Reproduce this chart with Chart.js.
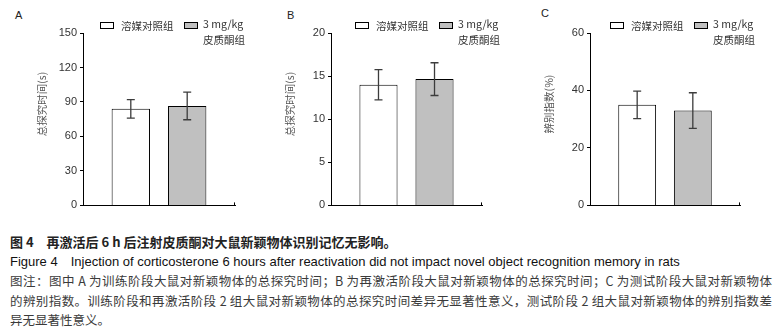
<!DOCTYPE html>
<html lang="zh">
<head>
<meta charset="UTF-8">
<title>图 4 新颖物体识别</title>
<script src="https://cdn.jsdelivr.net/npm/chart.js"></script>
<style>
  body { margin: 0; background: #fff; width: 784px; height: 334px; overflow: hidden; position: relative;
         font-family: "Liberation Sans", "Noto Sans CJK SC", sans-serif; }
  .panel { position: absolute; top: 0; height: 215px; }
  .tag { position: absolute; top: 9px; font-size: 11px; color: #222; }
  .cap { position: absolute; left: 10px; white-space: nowrap; line-height: 16px; }
  .zh { font-family: "Noto Sans CJK SC", sans-serif; }
  .note { font-size: 12.5px; color: #3a3a3a; width: 762px; text-align: justify; text-align-last: justify; }
</style>
</head>
<body>
  <div class="tag" style="left:15px">A</div>
  <div class="tag" style="left:287px">B</div>
  <div class="tag" style="left:541px;top:7px">C</div>

  <div class="panel" style="left:0;width:250px"><canvas id="chartA"></canvas></div>
  <div class="panel" style="left:250px;width:250px"><canvas id="chartB"></canvas></div>
  <div class="panel" style="left:510px;width:250px"><canvas id="chartC"></canvas></div>

  <div class="cap zh" style="top:234px;font-size:13px;font-weight:bold;color:#222">图 4　再激活后 6 h 后注射皮质酮对大鼠新颖物体识别记忆无影响。</div>
  <div class="cap" style="top:254px;font-size:13px;color:#111">Figure 4<span style="margin-left:13px"></span>Injection of corticosterone 6 hours after reactivation did not impact novel object recognition memory in rats</div>
  <div class="cap zh note" style="top:273px">图注：图中 A 为训练阶段大鼠对新颖物体的总探究时间；B 为再激活阶段大鼠对新颖物体的总探究时间；C 为测试阶段大鼠对新颖物体</div>
  <div class="cap zh note" style="top:293px">的辨别指数。训练阶段和再激活阶段 2 组大鼠对新颖物体的总探究时间差异无显著性意义，测试阶段 2 组大鼠对新颖物体的辨别指数差</div>
  <div class="cap zh" style="top:312px;font-size:12.5px;color:#3a3a3a">异无显著性意义。</div>

  <script>
    // data
    const groupNames = ['溶媒对照组', '3 mg/kg 皮质酮组'];
    const legendLines = [['溶媒对照组'], ['3 mg/kg', '皮质酮组']];
    const yTitles = ['总探究时间(s)', '总探究时间(s)', '辨别指数(%)'];
    const controlMeans = [84, 14, 35];
    const controlErr = [8, 1.75, 4.8];
    const corticoMeans = [86.5, 14.65, 33];
    const corticoErr = [12, 1.9, 6.2];
    const yMax = [150, 20, 60];
    const yStep = [30, 5, 20];

    // layout per panel (canvas id, y-axis width, right padding, legend offset)
    const panels = [
      { id: 'chartA', axisW: 83, padR: 15, legX: 17 },
      { id: 'chartB', axisW: 81, padR: 18, legX: 24 },
      { id: 'chartC', axisW: 80, padR: 20, legX: 20 }
    ];

    const colors = ['#ffffff', '#c0c0c0'];

    const extras = {
      id: 'extras',
      afterDatasetsDraw(chart, args, opts) {
        const ctx = chart.ctx;
        const y = chart.scales.y;
        ctx.save();
        ctx.strokeStyle = '#3c3c3c';
        ctx.lineWidth = 1.3;
        chart.data.datasets.forEach((ds, i) => {
          const bar = chart.getDatasetMeta(i).data[0];
          const m = ds.data[0], e = ds.err;
          const top = y.getPixelForValue(m + e), bot = y.getPixelForValue(m - e);
          ctx.beginPath();
          ctx.moveTo(bar.x, top); ctx.lineTo(bar.x, bot);
          ctx.moveTo(bar.x - 4, top); ctx.lineTo(bar.x + 4, top);
          ctx.moveTo(bar.x - 4, bot); ctx.lineTo(bar.x + 4, bot);
          ctx.stroke();
        });
        ctx.restore();
      },
      afterDraw(chart, args, opts) {
        const ctx = chart.ctx;
        const a = chart.chartArea;
        ctx.save();
        // small end tick on the x axis
        ctx.strokeStyle = '#000';
        ctx.lineWidth = 1;
        ctx.beginPath();
        ctx.moveTo(a.right - 0.5, a.bottom);
        ctx.lineTo(a.right - 0.5, a.bottom - 3);
        ctx.stroke();

        // y title
        ctx.fillStyle = '#555';
        ctx.font = '10.5px "Noto Sans CJK SC", sans-serif';
        ctx.textAlign = 'center';
        ctx.textBaseline = 'middle';
        ctx.translate(a.left - 41, 104);
        ctx.rotate(-Math.PI / 2);
        ctx.fillText(opts.yTitle, 0, 0);
        ctx.setTransform(1, 0, 0, 1, 0, 0);

        // legend
        const x0 = a.left + opts.legX;
        ctx.font = '10.5px "Noto Sans CJK SC", "Liberation Sans", sans-serif';
        ctx.textAlign = 'left';
        const slots = [x0, x0 + 84];
        chart.data.datasets.forEach((ds, i) => {
          ctx.fillStyle = colors[i];
          ctx.fillRect(slots[i], 22.5, 13, 6);
          ctx.strokeStyle = '#000';
          ctx.strokeRect(slots[i] + 0.5, 22.5, 13, 6);
          ctx.fillStyle = '#333';
          legendLines[i].forEach((t, k) => {
            const ty = i === 0 ? 26 : 24 + k * 16;
            ctx.fillText(t, slots[i] + (i === 0 ? 21 : 19), ty);
          });
        });
        ctx.restore();
      }
    };

    panels.forEach((p, n) => {
      new Chart(document.getElementById(p.id), {
        type: 'bar',
        data: {
          labels: [''],
          datasets: [
            { label: groupNames[0], data: [controlMeans[n]], err: controlErr[n],
              backgroundColor: colors[0], borderColor: '#000', borderWidth: 1 },
            { label: groupNames[1], data: [corticoMeans[n]], err: corticoErr[n],
              backgroundColor: colors[1], borderColor: '#000', borderWidth: 1 }
          ]
        },
        plugins: [extras],
        options: {
          responsive: true,
          maintainAspectRatio: false,
          animation: false,
          datasets: { bar: { categoryPercentage: 0.742, barPercentage: 0.68 } },
          layout: { padding: { top: 33, bottom: 9, left: 0, right: p.padR } },
          plugins: {
            legend: { display: false },
            tooltip: { enabled: false },
            extras: { yTitle: yTitles[n], legX: p.legX }
          },
          scales: {
            x: {
              grid: { display: false, drawTicks: false },
              border: { display: true, color: '#000', width: 1 },
              ticks: { display: false },
              afterFit(s) { s.height = 0; }
            },
            y: {
              min: 0, max: yMax[n],
              grid: { drawOnChartArea: false, drawTicks: true, tickLength: 3, color: '#000' },
              border: { display: true, color: '#000', width: 1 },
              ticks: { stepSize: yStep[n], padding: 3, color: '#333',
                       font: { family: 'Liberation Sans', size: 11 } },
              afterFit(s) { s.width = p.axisW; }
            }
          }
        }
      });
    });
  </script>
</body>
</html>
